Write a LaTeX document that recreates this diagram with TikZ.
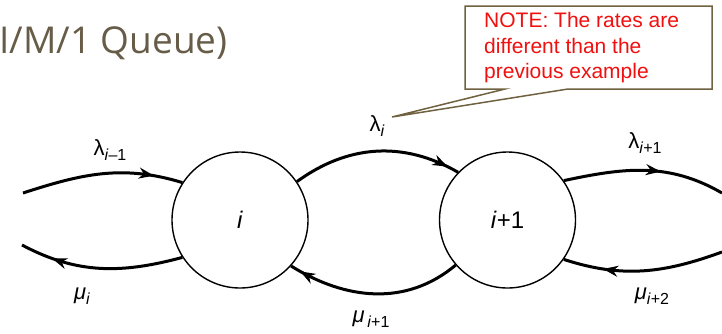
\documentclass[tikz,border=0pt]{standalone}
\usepackage{fontspec}
\setmainfont{Liberation Sans}
\newfontfamily\titlefont{Open Sans}
\usetikzlibrary{arrows.meta,positioning,calc,decorations.markings}

\definecolor{titlebrown}{RGB}{102,92,72}
\definecolor{notebrown}{RGB}{112,98,64}
\definecolor{notered}{RGB}{240,16,16}

\newcommand{\lsub}[1]{\raisebox{-0.4ex}{\fontsize{16}{16}\selectfont #1}}

\tikzset{
  state/.style={circle, draw, line width=1.4pt, minimum size=136pt, inner sep=0pt,
    font=\fontsize{24}{24}\selectfont},
  flow/.style={line width=3pt, postaction={decorate},
    decoration={markings, mark=at position #1 with {\arrow{Stealth[length=15pt,width=11pt]}}}},
  flow/.default=0.5,
  rate/.style={font=\fontsize{22}{22}\selectfont, inner sep=1pt}
}

\begin{document}
\begin{tikzpicture}[x=1pt,y=-1pt]
\useasboundingbox (0,0) rectangle (722,333);

% title
\node[anchor=base west, inner sep=0pt, text=titlebrown, font=\titlefont\fontsize{37}{37}\selectfont] (title) at (-1,53) {I/M/1 Queue)};

% states
\node[state] (si) at (240,220) {\textit{i}};
\node[state] (sj) at (507.5,220) {\textit{i}+1};

% free ends
\coordinate (lin) at (23,193);
\coordinate (lout) at (22,245);
\coordinate (rin) at (722,193);
\coordinate (rout) at (722,252);

% arrivals
\draw[flow=0.82] (lin) to[out=18,in=163] (si.147);
\draw[flow=0.93] (si.34) to[out=36,in=150] (sj.136);
\draw[flow=0.6] (sj.35) to[out=12,in=150] (rin);
% departures
\draw[flow=0.8] (si.213) to[out=195,in=-28] (lout);
\draw[flow=0.94] (sj.221) to[out=220,in=-32] (si.-42);
\draw[flow=0.75] (rout) to[out=200,in=-18] (sj.-35);

% rates
\node[rate] (l1) at (110,150) {λ\lsub{\textit{i}–1}};
\node[rate] (l2) at (377,126) {λ\lsub{\textit{i}}};
\node[rate] (l3) at (645,143) {λ\lsub{\textit{i}+1}};
\node[rate] (m1) at (82,296) {\textit{μ}\lsub{\textit{i}}};
\node[rate] (m2) at (371,319) {\textit{μ}\lsub{\,\textit{i}+1}};
\node[rate] (m3) at (652,296) {\textit{μ}\lsub{\textit{i}+2}};

% callout
\coordinate (tip) at (392,117);
\filldraw[draw=notebrown, fill=white, line width=1.5pt, line join=miter]
  (465,6) -- (712,6) -- (712,89) -- (568,89) -- (tip) -- (505,89) -- (465,89) -- cycle;
\node[anchor=north west, align=left, inner sep=0pt, text=notered,
  font=\fontsize{21}{25.5}\selectfont] (note) at (484,12.5)
  {NOTE: The rates are\\different than the\\previous example};
\end{tikzpicture}
\end{document}
